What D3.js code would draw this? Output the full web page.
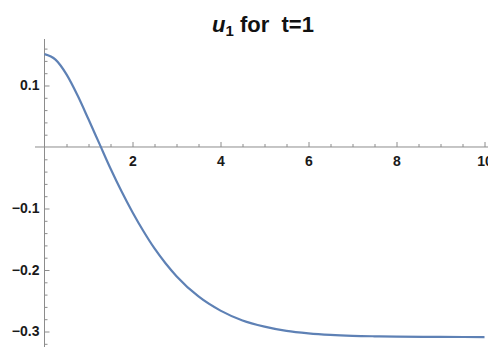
<!DOCTYPE html>
<html>
<head>
<meta charset="utf-8">
<script src="https://cdn.jsdelivr.net/npm/d3@7"></script>
<style>
  body { margin: 0; background: #fff; }
  svg { display: block; }
  .tick text { font-family: "Liberation Sans", Arial, sans-serif; font-weight: bold; font-size: 14px; fill: #1a1a1a; }
</style>
</head>
<body>
<svg id="chart"></svg>
<script>
// values
var xValues = [0, 0.25, 0.5, 0.75, 1.0, 1.25, 1.5, 1.75, 2.0, 2.25, 2.5, 2.75, 3.0, 3.5, 4.0, 4.5, 5.0, 5.5, 6.0, 6.5, 7.0, 7.5, 8.0, 9.0, 10.0];
var u1Values = [0.151, 0.142, 0.118, 0.084, 0.045, 0.005, -0.035, -0.072, -0.106, -0.137, -0.165, -0.189, -0.210, -0.243, -0.266, -0.282, -0.292, -0.299, -0.303, -0.3055, -0.307, -0.3078, -0.3083, -0.3088, -0.309];
var xMajorTicks = [2, 4, 6, 8, 10];
var xMinorTicks = [0.5, 1, 1.5, 2.5, 3, 3.5, 4.5, 5, 5.5, 6.5, 7, 7.5, 8.5, 9, 9.5];
var yMajorTicks = [0.1, -0.1, -0.2, -0.3];
var yMinorTicks = [0.16, 0.14, 0.12, 0.08, 0.06, 0.04, 0.02, -0.02, -0.04, -0.06, -0.08, -0.12, -0.14, -0.16, -0.18, -0.22, -0.24, -0.26, -0.28, -0.32];

var screen = { width: 488, height: 347 };

var svg = d3.select("#chart").attr("width", screen.width).attr("height", screen.height);

var xScale = d3.scaleLinear().domain([0, 10]).range([44.5, 484.5]);
var yScale = d3.scaleLinear().domain([-0.3252, 0.1756]).range([347, 39]);

var axisColor = "#8c8c8c";
var x0 = xScale(0), y0 = yScale(0);

// x axis (through y = 0), ticks pointing up
var xMinor = svg.append("g").attr("transform", "translate(0," + y0 + ")")
  .call(d3.axisBottom(xScale).tickValues(xMinorTicks).tickSize(-3).tickFormat(""));
var xMajor = svg.append("g").attr("transform", "translate(0," + y0 + ")")
  .call(d3.axisBottom(xScale).tickValues(xMajorTicks).tickSize(-5).tickPadding(9).tickFormat(d3.format("d")));

// y axis (through x = 0), ticks pointing right
var yMinor = svg.append("g").attr("transform", "translate(" + x0 + ",0)")
  .call(d3.axisLeft(yScale).tickValues(yMinorTicks).tickSize(-3).tickFormat(""));
var yMajor = svg.append("g").attr("transform", "translate(" + x0 + ",0)")
  .call(d3.axisLeft(yScale).tickValues(yMajorTicks).tickSize(-5).tickPadding(5).tickFormat(d3.format(".1f")));

[xMinor, xMajor, yMinor, yMajor].forEach(function (g) {
  g.select(".domain").remove();
  g.selectAll(".tick line").attr("stroke", axisColor);
});

// axis lines
svg.append("line")
  .attr("x1", 35).attr("x2", screen.width)
  .attr("y1", y0).attr("y2", y0)
  .attr("stroke", axisColor).attr("stroke-width", 1);
svg.append("line")
  .attr("x1", x0).attr("x2", x0)
  .attr("y1", yScale.range()[1]).attr("y2", yScale.range()[0])
  .attr("stroke", axisColor).attr("stroke-width", 1);

// curve
var line = d3.line()
  .x(function (d, i) { return xScale(xValues[i]); })
  .y(function (d) { return yScale(d); })
  .curve(d3.curveMonotoneX);

svg.append("path")
  .datum(u1Values)
  .attr("d", line)
  .attr("fill", "none")
  .attr("stroke", "#5E81B5")
  .attr("stroke-width", 2.2);

// title
var title = svg.append("text")
  .attr("x", 263).attr("y", 32)
  .attr("text-anchor", "middle")
  .style("font-family", "'Liberation Sans', Arial, sans-serif")
  .style("font-weight", "bold")
  .style("font-size", "22px")
  .style("white-space", "pre")
  .attr("fill", "#111");
title.append("tspan").style("font-style", "italic").text("u");
title.append("tspan").attr("dy", 4).style("font-size", "15px").text("1");
title.append("tspan").attr("dy", -4).text(" for  t=1");
</script>
</body>
</html>
